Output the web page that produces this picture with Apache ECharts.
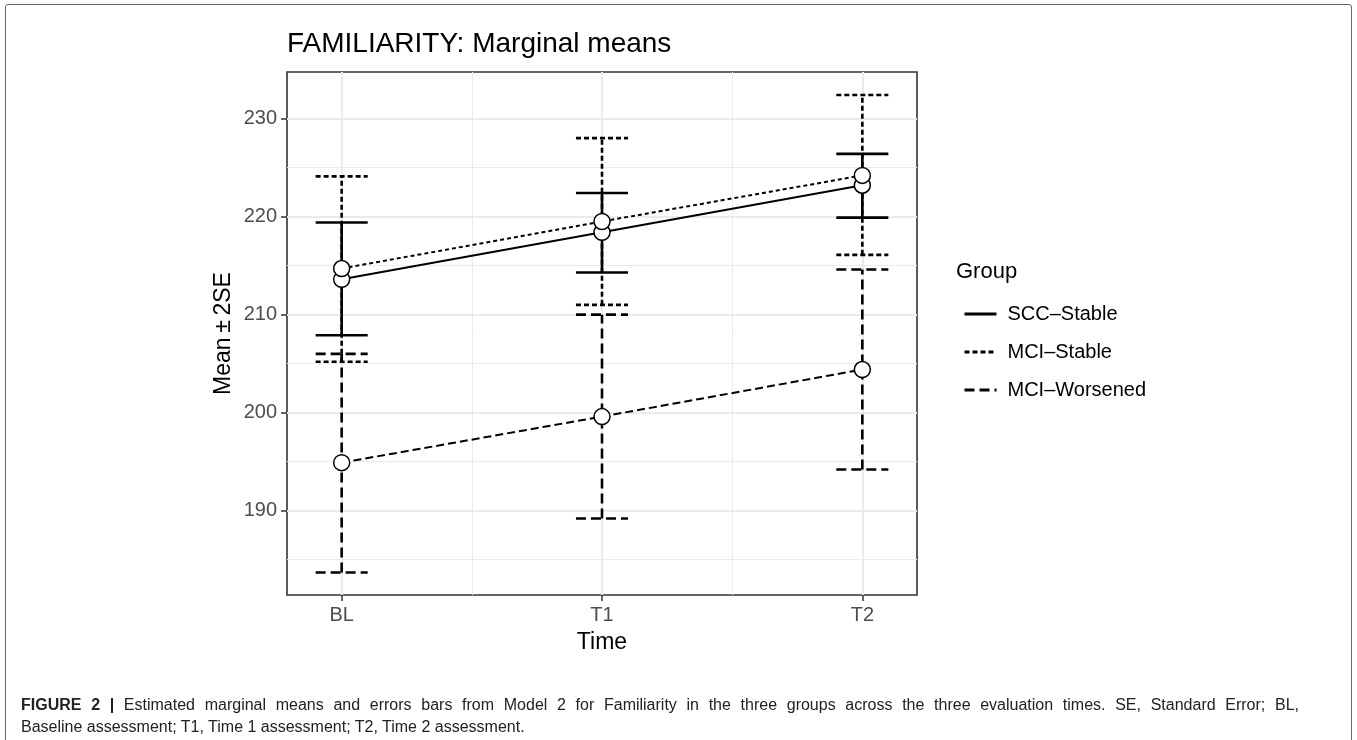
<!DOCTYPE html>
<html>
<head>
<meta charset="utf-8">
<title>FAMILIARITY: Marginal means</title>
<script src="https://cdn.jsdelivr.net/npm/echarts@6/dist/echarts.min.js"></script>
<style>
  html, body { margin: 0; padding: 0; background: #fff; }
  #wrap { position: relative; width: 1357px; height: 740px; overflow: hidden; }
  #frame { position: absolute; left: 5px; top: 4px; width: 1345px; height: 760px;
           border: 1.5px solid #666; border-radius: 3px; }
  #chart { position: absolute; left: 0; top: 0; width: 1357px; height: 740px; }
  #caption { position: absolute; left: 21px; top: 694px; width: 1278px;
             font-family: "Liberation Sans", Arial, sans-serif; font-size: 16px;
             line-height: 22px; color: #222; }
  #caption .l1 { text-align: justify; text-align-last: justify; }
  #caption b { font-weight: bold; }
</style>
</head>
<body>
<div id="wrap">
  <div id="frame"></div>
  <div id="chart"></div>
  <div id="caption">
    <div class="l1"><b>FIGURE 2 |</b> Estimated marginal means and errors bars from Model 2 for Familiarity in the three groups across the three evaluation times. SE, Standard Error; BL,</div>
    <div>Baseline assessment; T1, Time 1 assessment; T2, Time 2 assessment.</div>
  </div>
</div>
<script>
// data
const times = ['BL', 'T1', 'T2'];
const timePos = [1, 2, 3];
const groups = ['SCC\u2013Stable', 'MCI\u2013Stable', 'MCI\u2013Worsened'];

const sccMean = [213.6, 218.4, 223.2];
const sccLower = [207.9, 214.3, 219.9];
const sccUpper = [219.4, 222.4, 226.4];

const mciStableMean = [214.7, 219.5, 224.2];
const mciStableLower = [205.2, 211.0, 216.1];
const mciStableUpper = [224.1, 228.0, 232.4];

const mciWorseMean = [194.9, 199.6, 204.4];
const mciWorseLower = [183.7, 189.2, 194.2];
const mciWorseUpper = [206.0, 210.0, 214.6];

const yMajor = [190, 200, 210, 220, 230];
const yMinor = [185, 195, 205, 215, 225];
const xMinor = [1.5, 2.5];

const means = [sccMean, mciStableMean, mciWorseMean];
const lowers = [sccLower, mciStableLower, mciWorseLower];
const uppers = [sccUpper, mciStableUpper, mciWorseUpper];

// line types: solid, dotted, dashed
const barDash = [null, [5, 3], [10, 5]];
const lineDash = [null, [4, 3], [8, 4]];
const capHalf = 0.1;
const font = '"Liberation Sans", Arial, sans-serif';

const chart = echarts.init(document.getElementById('chart'));

const series = [];
groups.forEach((g, i) => {
  series.push({
    name: g,
    type: 'line',
    xAxisIndex: 0, yAxisIndex: 0,
    data: timePos.map((t, k) => [t, means[i][k]]),
    symbol: 'none',
    color: '#000',
    lineStyle: { color: '#000', width: 2, type: lineDash[i] || 'solid' },
    z: 3,
    silent: true
  });
});
groups.forEach((g, i) => {
  series.push({
    name: g + ' SE',
    type: 'custom',
    xAxisIndex: 0, yAxisIndex: 0,
    data: timePos.map((t, k) => [t, lowers[i][k], uppers[i][k]]),
    renderItem: function (params, api) {
      const x = api.value(0), lo = api.value(1), hi = api.value(2);
      const pLo = api.coord([x, lo]), pHi = api.coord([x, hi]);
      const lL = api.coord([x - capHalf, lo]), lR = api.coord([x + capHalf, lo]);
      const hL = api.coord([x - capHalf, hi]), hR = api.coord([x + capHalf, hi]);
      const st = { stroke: '#000', lineWidth: 2.6, lineDash: barDash[i], fill: null };
      return {
        type: 'group',
        children: [
          { type: 'line', shape: { x1: pLo[0], y1: pLo[1], x2: pHi[0], y2: pHi[1] }, style: st },
          { type: 'line', shape: { x1: lL[0], y1: lL[1], x2: lR[0], y2: lR[1] }, style: st },
          { type: 'line', shape: { x1: hL[0], y1: hL[1], x2: hR[0], y2: hR[1] }, style: st }
        ]
      };
    },
    z: 4,
    silent: true
  });
});
groups.forEach((g, i) => {
  series.push({
    name: g + ' mean',
    type: 'scatter',
    xAxisIndex: 0, yAxisIndex: 0,
    data: timePos.map((t, k) => [t, means[i][k]]),
    symbol: 'circle',
    symbolSize: 16,
    itemStyle: { color: '#fff', borderColor: '#000', borderWidth: 1.5, opacity: 1 },
    z: 5,
    silent: true
  });
});

const option = {
  animation: false,
  textStyle: { fontFamily: font },
  title: [
    {
      text: 'FAMILIARITY: Marginal means',
      left: 282, top: 25,
      textStyle: { fontFamily: font, fontSize: 28, fontWeight: 'normal', color: '#000' }
    },
    {
      text: 'Group',
      left: 951, top: 256,
      textStyle: { fontFamily: font, fontSize: 22, fontWeight: 'normal', color: '#000' }
    }
  ],
  legend: {
    orient: 'vertical',
    left: 958, top: 299,
    itemWidth: 32, itemHeight: 14, itemGap: 18,
    selectedMode: false,
    textStyle: { fontFamily: font, fontSize: 20, color: '#000', padding: [0, 0, 0, 6] },
    data: groups.map((g, i) => ({
      name: g,
      itemStyle: { color: 'rgba(0,0,0,0)', borderWidth: 0, opacity: 0 },
      lineStyle: { color: '#000', width: 3, type: barDash[i] || 'solid' }
    }))
  },
  grid: {
    left: 287, top: 72, width: 630, height: 523,
    show: true, borderColor: '#333', borderWidth: 1.6, backgroundColor: '#fff',
    containLabel: false
  },
  xAxis: [
    {
      type: 'value', min: 0.79, max: 3.21,
      name: 'Time', nameLocation: 'middle', nameGap: 36,
      nameTextStyle: { fontFamily: font, fontSize: 23, color: '#000' },
      axisLine: { show: false },
      axisTick: { show: true, customValues: timePos, length: 6, lineStyle: { color: '#333', width: 1.5 } },
      axisLabel: {
        customValues: timePos, margin: 10, fontSize: 20, color: '#4D4D4D', fontFamily: font,
        formatter: v => times[timePos.indexOf(v)]
      },
      splitLine: { show: true, lineStyle: { color: '#EBEBEB', width: 2 } }
    },
    {
      type: 'value', min: 0.79, max: 3.21, position: 'bottom',
      axisLine: { show: false },
      axisTick: { show: false, customValues: xMinor },
      axisLabel: { show: false, customValues: xMinor },
      splitLine: { show: true, lineStyle: { color: '#EBEBEB', width: 1 } }
    }
  ],
  yAxis: [
    {
      type: 'value', min: 181.4, max: 234.75,
      name: 'Mean\u2009\u00B1\u20092SE', nameLocation: 'middle', nameGap: 52, nameRotate: 90,
      nameTextStyle: { fontFamily: font, fontSize: 23, color: '#000' },
      axisLine: { show: false },
      axisTick: { show: true, customValues: yMajor, length: 6, lineStyle: { color: '#333', width: 1.5 } },
      axisLabel: { customValues: yMajor, margin: 10, fontSize: 20, color: '#4D4D4D', fontFamily: font },
      splitLine: { show: true, lineStyle: { color: '#EBEBEB', width: 2 } }
    },
    {
      type: 'value', min: 181.4, max: 234.75, position: 'left',
      axisLine: { show: false },
      axisTick: { show: false, customValues: yMinor },
      axisLabel: { show: false, customValues: yMinor },
      splitLine: { show: true, lineStyle: { color: '#EBEBEB', width: 1 } }
    }
  ],
  series: series
};

chart.setOption(option);
</script>
</body>
</html>
